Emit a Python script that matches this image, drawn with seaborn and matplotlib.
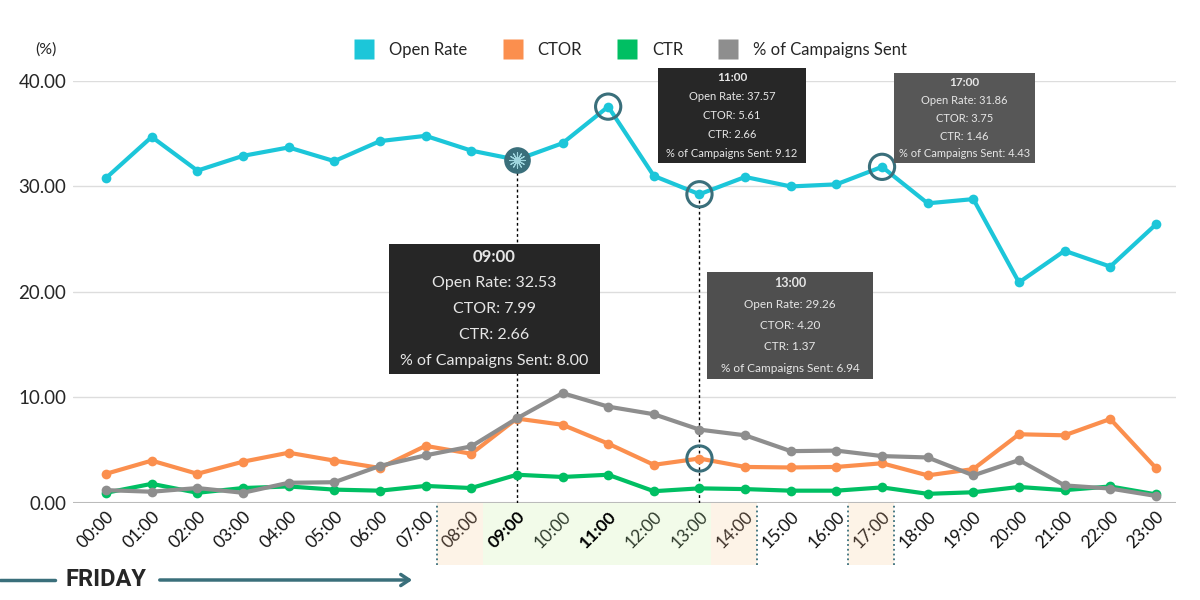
import numpy as np
import pandas as pd
import seaborn as sns
import matplotlib.pyplot as plt
import matplotlib.transforms as mtransforms
from matplotlib.patches import Rectangle

hours = [f"{h:02d}:00" for h in range(24)]
open_rate = [30.8, 34.7, 31.5, 32.9, 33.7, 32.4, 34.3, 34.8, 33.4, 32.53, 34.1, 37.57,
             31.0, 29.26, 30.9, 30.0, 30.2, 31.86, 28.4, 28.8, 20.9, 23.9, 22.4, 26.4]
ctor = [2.75, 4.0, 2.75, 3.9, 4.75, 4.0, 3.3, 5.4, 4.65, 7.99, 7.4, 5.61,
        3.6, 4.20, 3.4, 3.35, 3.4, 3.75, 2.6, 3.2, 6.5, 6.4, 7.95, 3.3]
ctr = [0.95, 1.8, 0.95, 1.4, 1.55, 1.25, 1.15, 1.6, 1.4, 2.66, 2.45, 2.66,
       1.1, 1.37, 1.3, 1.15, 1.15, 1.46, 0.85, 1.0, 1.5, 1.2, 1.55, 0.8]
campaigns = [1.2, 1.05, 1.4, 0.95, 1.9, 1.95, 3.5, 4.5, 5.35, 8.00, 10.4, 9.12,
             8.4, 6.94, 6.4, 4.9, 4.95, 4.43, 4.3, 2.6, 4.05, 1.65, 1.35, 0.65]

series_names = ["Open Rate", "CTOR", "CTR", "% of Campaigns Sent"]
colors = ["#1cc6d9", "#fb8f4e", "#00bf63", "#8e8e8e"]
teal = "#3a6f7b"

df = pd.DataFrame({"hour": list(range(24)), "Open Rate": open_rate, "CTOR": ctor,
                   "CTR": ctr, "% of Campaigns Sent": campaigns})
long_df = df.melt(id_vars="hour", var_name="metric", value_name="value")

sns.set_style("white")
plt.rcParams['font.family'] = ['Lato', 'DejaVu Sans']

fig = plt.figure(figsize=(12, 6), dpi=100)
ax = fig.add_axes([0.061, 0.162, 0.919, 0.703])

sns.lineplot(data=long_df, x="hour", y="value", hue="metric", hue_order=series_names,
             palette=colors, marker="o", markersize=7, markeredgewidth=0, linewidth=3,
             ax=ax, legend=False, zorder=3)

ax.set_xlim(-0.72, 23.44)
ax.set_ylim(0, 40)
ax.set_yticks([0, 10, 20, 30, 40])
ax.set_yticklabels([f"{v:.2f}" for v in [0, 10, 20, 30, 40]], fontsize=13.5)
ax.yaxis.grid(True, color="#dddddd", linewidth=1)
ax.axhline(0, color="#bbbbbb", linewidth=1.5, zorder=2)
ax.tick_params(axis="y", length=0, pad=5)
ax.tick_params(axis="x", length=0, pad=4)
for s in ax.spines.values():
    s.set_visible(False)
ax.set_xlabel("")
ax.set_ylabel("")

ax.set_xticks(range(24))
ax.set_xticklabels(hours, rotation=45, ha="right", rotation_mode="anchor", fontsize=12.5)
tint = {8: "#3e3128", 10: "#2f3b2c", 12: "#2f3b2c", 13: "#2f3b2c", 14: "#3e3128", 17: "#3e3128"}
for i, lab in enumerate(ax.get_xticklabels()):
    if i in (9, 11):
        lab.set_fontweight("bold")
        lab.set_color("black")
    elif i in tint:
        lab.set_color(tint[i])
    else:
        lab.set_color("#111111")

# shaded hour bands below the axis
trans = mtransforms.blended_transform_factory(ax.transData, ax.transAxes)
bands = [(8, 8, "#fdf3e7"), (9, 13, "#f2fbe9"), (14, 14, "#fdf3e7"), (17, 17, "#fdf3e7")]
for h0, h1, c in bands:
    ax.add_patch(Rectangle((h0 - 0.74, -0.147), h1 - h0 + 1, 0.147, transform=trans,
                           facecolor=c, edgecolor="none", clip_on=False, zorder=0))
for xb in [7.26, 14.26, 16.26, 17.26]:
    ax.plot([xb, xb], [-0.147, 0], transform=trans, color=teal, linestyle=":",
            linewidth=1.3, clip_on=False, zorder=1)

# dashed guide lines
for h in (9, 13):
    ax.plot([h, h], [0, open_rate[h]], color="black", linestyle=(0, (2, 2)),
            linewidth=1, zorder=2)

# highlight circles
ax.scatter([9], [open_rate[9]], s=330, color=teal, zorder=5)
ax.scatter([9], [open_rate[9]], s=120, marker=(12, 2, 0), color="#9fd6de", linewidths=0.8, zorder=6)
for h, v in [(11, open_rate[11]), (13, open_rate[13]), (13, ctor[13]), (17, open_rate[17])]:
    ax.scatter([h], [v], s=330, facecolor="none", edgecolor=teal, linewidths=2.2, zorder=5)

# tooltips (figure pixel coords measured from top-left)
def tooltip(h, x0, y0, x1, y1, fc, fs, title_fs):
    W, H = 1200, 600
    fig.patches.append(Rectangle((x0 / W, 1 - y1 / H), (x1 - x0) / W, (y1 - y0) / H,
                                 transform=fig.transFigure, facecolor=fc, edgecolor="none",
                                 zorder=10))
    lines = [hours[h], f"Open Rate: {open_rate[h]:.2f}", f"CTOR: {ctor[h]:.2f}",
             f"CTR: {ctr[h]:.2f}", f"% of Campaigns Sent: {campaigns[h]:.2f}"]
    cx = (x0 + x1) / 2
    step = (y1 - y0) / 5
    for k, t in enumerate(lines):
        fig.text(cx / W, 1 - (y0 + step * (k + 0.5)) / H, t, ha="center", va="center",
                 color="#e6e6e6", fontsize=title_fs if k == 0 else fs,
                 fontweight="bold" if k == 0 else "normal", zorder=11)

tooltip(9, 389, 244, 600, 374, "#262626", 11.5, 12)
tooltip(11, 658, 68, 806, 163, "#272727", 8, 8.5)
tooltip(13, 707, 272, 873, 379, "#4f4f4f", 8.5, 9)
tooltip(17, 894, 73, 1035, 163, "#575757", 8, 8.5)

# legend
handles = [plt.Line2D([], [], marker="s", linestyle="none", markersize=14,
                      markerfacecolor=c, markeredgecolor="none") for c in colors]
fig.legend(handles, series_names, loc="center", bbox_to_anchor=(0.523, 0.917), ncol=4,
           frameon=False, fontsize=12, handletextpad=0.5, columnspacing=1.7)

fig.text(46 / 1200, 1 - 50 / 600, "(%)", ha="center", va="center", fontsize=11.5)

# FRIDAY arrow
fig.add_artist(plt.Line2D([0.0, 55 / 1200], [1 - 580 / 600] * 2, color=teal, linewidth=2.5))
fig.text(106 / 1200, 1 - 580 / 600, "FRIDAY", ha="center", va="center", fontsize=17,
         fontweight="bold", family=["Liberation Sans Narrow", "Roboto", "DejaVu Sans"])
ax.annotate("", xy=(415 / 1200, 1 - 580 / 600), xytext=(157 / 1200, 1 - 580 / 600),
            xycoords="figure fraction", textcoords="figure fraction",
            arrowprops=dict(arrowstyle="->,head_length=0.6,head_width=0.4", color=teal, lw=2.5))

fig.savefig("out.png", dpi=100)
plt.close()
